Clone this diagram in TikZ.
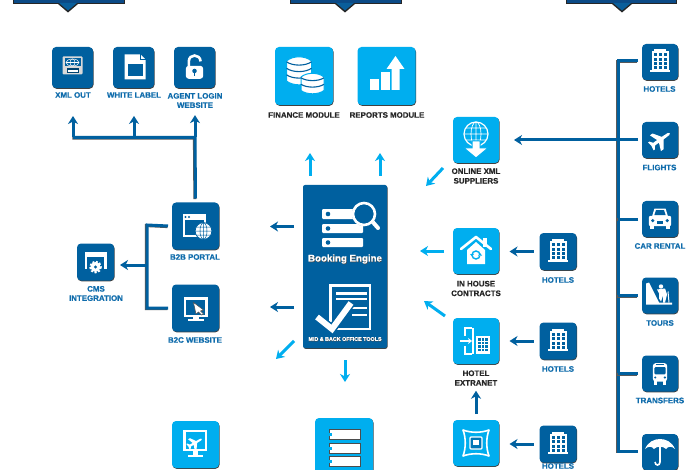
\documentclass[tikz,border=0pt]{standalone}
\usepackage{fontspec}
\setmainfont{Liberation Sans}[BoldFeatures={FakeBold=0.6}]
\usetikzlibrary{arrows.meta,shadows}
\definecolor{dk}{HTML}{00609F}
\definecolor{lt}{HTML}{00AEEF}
\definecolor{lbl}{HTML}{0F6CAC}
\definecolor{navy}{HTML}{0B4A86}
\newcommand{\planepath}{(13,-1.6) -- (15,0) -- (13,1.6) -- (4,2) -- (-3,12) -- (-7,12) -- (-3,2) -- (-9,2) -- (-12,6) -- (-14,6) -- (-13,0) -- (-14,-6) -- (-12,-6) -- (-9,-2) -- (-3,-2) -- (-7,-12) -- (-3,-12) -- (4,-2) -- cycle}
\tikzset{
  ico/.style={rectangle,rounded corners=4pt,inner sep=0pt,outer sep=0pt,draw=none,
    drop shadow={shadow xshift=.5pt,shadow yshift=-.8pt,fill=black,opacity=.75}},
  icd/.style={ico,fill=dk},
  icl/.style={ico,fill=lt},
  blue lab/.style={inner sep=0pt,align=center,text=lbl,font=\fontsize{7.9}{9.3}\selectfont\bfseries},
  black lab/.style={inner sep=0pt,align=center,text=black!85,font=\fontsize{7.9}{9.6}\selectfont\bfseries},
  darr/.style={line width=3pt,draw=dk,-{Stealth[length=8pt,width=10pt,inset=2.5pt]}},
  larr/.style={line width=3pt,draw=lt,-{Stealth[length=8pt,width=10pt,inset=2.5pt]}},
  trunk/.style={line width=3pt,draw=dk,preaction={draw=black!65,line width=3pt,transform canvas={xshift=-.6pt,yshift=-.6pt}}},
  hotelg/.pic={
    \fill[white] (-6,-12.5) rectangle (6,-10);
    \fill[white] (-8.5,-10.5) rectangle (8.5,8);
    \fill[white] (-10,8) rectangle (10,10);
    \foreach \x in {-5,0,5}\foreach \y in {-7,-2.5,2,6}{\fill[dk] (\x-1.5,\y-1.5) rectangle (\x+1.5,\y+1.5);}
  },
  planeg/.pic={\fill[white,rotate=35,scale=.8] \planepath;},
  carg/.pic={
    \fill[white] (-10,-3) -- (-7,-13) -- (7,-13) -- (10,-3) -- cycle;
    \fill[white,rounded corners=2pt] (-14,-4) rectangle (14,9);
    \fill[white] (-13,8) rectangle (-7,12.5);
    \fill[white] (7,8) rectangle (13,12.5);
    \fill[dk] (-7,-5) -- (-5,-11) -- (5,-11) -- (7,-5) -- cycle;
    \fill[dk] (-9,2) circle (2.2);
    \fill[dk] (9,2) circle (2.2);
    \fill[dk] (-4,3) rectangle (4,6);
  },
  tourg/.pic={
    \fill[white] (-14,-12) -- (-11,-13) -- (-1,7) -- (12,7) -- (12,9) -- (-14,9) -- cycle;
    \fill[white] (1,-9) circle (2.2);
    \fill[white] (-3,-6) -- (5,-7) -- (7,-1) -- (5,7) -- (3,7) -- (3,0) -- (1,6) -- (-1,3) -- (-1,-2) -- cycle;
    \draw[white,line width=1pt] (8,-4) -- (9,7);
  },
  busg/.pic={
    \fill[white,rounded corners=3pt] (-9,-13) rectangle (9,10);
    \fill[white] (-8,9) rectangle (-4,14);
    \fill[white] (4,9) rectangle (8,14);
    \fill[dk,rounded corners=1pt] (-7,-8) rectangle (7,1);
    \draw[dk,line width=.8pt] (-5,-11) -- (5,-11);
    \fill[dk] (-6,5) circle (1.5);
    \fill[dk] (6,5) circle (1.5);
  },
  umbg/.pic={
    \fill[white] (-15,-3) .. controls (-12,-10) and (-6,-13) .. (0,-13) .. controls (6,-13) and (12,-10) .. (15,-3)
      .. controls (12,-6) and (8,-6) .. (6,-3) .. controls (4,-6) and (-4,-6) .. (-6,-3) .. controls (-8,-6) and (-12,-6) .. (-15,-3) -- cycle;
    \draw[white,line width=1.6pt] (0,-5) -- (0,10) .. controls (0,14) and (-5,14) .. (-5,10);
  },
  xmlg/.pic={
    \fill[white!85!black,rounded corners=1pt] (-10,-9) rectangle (10,9);
    \fill[dk] (-8,-7) rectangle (8,1);
    \draw[white,line width=.5pt] (0,-3) ellipse (6.5 and 3.5);
    \draw[white,line width=.5pt] (0,-3) ellipse (2.5 and 3.5);
    \draw[white,line width=.5pt] (-6.5,-3) -- (6.5,-3);
    \fill[dk!70!black] (-6,3) rectangle (6,7.5);
    \draw[white,line width=.5pt] (-5,4.4) -- (5,4.4) (-5,6) -- (5,6);
  },
  docg/.pic={
    \fill[white] (-9,-13) -- (7,-13) -- (12,-8) -- (12,12) -- (-9,12) -- cycle;
    \fill[dk] (-6,-3) rectangle (9.5,9);
    \draw[dk,line width=.6pt] (7,-13) -- (7,-8) -- (12,-8);
  },
  lockg/.pic={
    \draw[white,line width=2.6pt] (-6.5,0) -- (-6.5,-7) .. controls (-6.5,-16) and (6.5,-16) .. (7,-7);
    \fill[white,rounded corners=3pt] (-10,-2) rectangle (10,13);
    \fill[dk] (0,4) circle (2.6);
    \fill[dk] (-1.1,4) rectangle (1.1,9.5);
  },
  browg/.pic={
    \fill[white] (-13,-12) rectangle (10,11);
    \fill[dk] (-11,-6) rectangle (8,9);
    \fill[dk] (-10,-9) circle (1.1);
    \fill[dk] (-6.5,-9) circle (1.1);
    \fill[white,draw=dk,line width=.8pt] (8,5) circle (8.4);
    \draw[dk,line width=.5pt] (8,5) ellipse (3.5 and 8.2) (-.4,5) -- (16.4,5) (0.5,1) -- (15.5,1) (.5,9) -- (15.5,9) (8,-3.4) -- (8,13.4);
  },
  mong/.pic={
    \fill[white] (-12,-11) rectangle (12,9);
    \fill[dk] (-9.5,-8.5) rectangle (9.5,6.5);
    \fill[white] (-3,9) rectangle (3,11);
    \fill[white] (-8,11) rectangle (8,13);
    \fill[white,draw=black!70,line width=.5pt] (-2,-5.5) -- (8,2) -- (5,3) -- (8,6) -- (6,7) -- (3,4) -- (0.5,6) -- cycle;
  },
  cmsg/.pic={
    \fill[white] (-11,-10) rectangle (11,7);
    \fill[dk] (-8.5,-5) rectangle (8.5,10);
    \fill[white] (0,5) circle (5);
    \draw[white,line width=2pt,dash pattern=on 2pt off 1.6pt] (0,5) circle (5.4);
    \fill[dk] (0,5) circle (1.6);
  },
  finang/.pic={
    \foreach \c/\t/\rx/\ry/\n in {-5/-15/12.5/4/3,8.5/1/11.5/3.5/2}{
      \fill[white,draw=lt,line width=1pt] (\c-\rx,\t) -- (\c-\rx,\t+\n*6.5+.5) .. controls (\c-\rx*.5,\t+\n*6.5+\ry*1.4) and (\c+\rx*.5,\t+\n*6.5+\ry*1.4) .. (\c+\rx,\t+\n*6.5+.5) -- (\c+\rx,\t) .. controls (\c+\rx*.5,\t-\ry*1.4) and (\c-\rx*.5,\t-\ry*1.4) .. (\c-\rx,\t) -- cycle;
      \foreach \i in {0,...,\n}{
        \ifnum\i<\n
        \draw[dk,line width=1.1pt] (\c-\rx,\t+\i*6.5+.8) .. controls (\c-\rx*.5,\t+\i*6.5+\ry*1.3) and (\c+\rx*.5,\t+\i*6.5+\ry*1.3) .. (\c+\rx,\t+\i*6.5+.8);
        \fi
      }
    }
  },
  chartg/.pic={
    \fill[white] (-17,3) rectangle (-8,14);
    \fill[white] (-6,-4) rectangle (3,14);
    \fill[white] (5,-7) -- (0,-7) -- (9,-20) -- (18,-7) -- (13,-7) -- (13,14) -- (5,14) -- cycle;
  },
  globeg/.pic={
    \draw[white,line width=1.2pt] (0,-6) circle (12);
    \draw[white,line width=.7pt] (0,-6) ellipse (5 and 12) (-12,-6) -- (12,-6) (-10,-12) -- (10,-12) (-10,0) -- (10,0) (0,-18) -- (0,6);
    \fill[white,draw=lt,line width=1pt] (-4,1) -- (4,1) -- (4,8) -- (12,8) -- (0,18) -- (-12,8) -- (-4,8) -- cycle;
  },
  houseg/.pic={
    \fill[white] (7,-13) rectangle (11,-4);
    \draw[white,line width=2.6pt,line join=round,line cap=round] (-15,-2) -- (0,-14) -- (15,-2);
    \fill[white] (-9,-1) -- (0,-9) -- (9,-1) -- (9,13) -- (-9,13) -- cycle;
    \draw[lt,line width=1.4pt] (0,4) circle (4);
    \fill[white] (-5,2.5) rectangle (5,5);
    \fill[lt] (-6,3) -- (-2,3) -- (-4,5.5) -- cycle;
    \fill[lt] (6,4.5) -- (2,4.5) -- (4,2) -- cycle;
  },
  extrag/.pic={
    \draw[white,line width=1.5pt] (-4,-13) -- (-11,-13) -- (-11,-5);
    \draw[white,line width=1.5pt] (-11,5) -- (-11,13) -- (-4,13);
    \draw[white,line width=1.5pt] (-3,-13) -- (-3,13);
    \draw[white,line width=1.6pt,-{Stealth[length=4pt,width=6pt]}] (-16,0) -- (-4,0);
    \fill[white] (0,-5) rectangle (14,13);
    \foreach \x in {2,5.5,9}\foreach \y in {-3,.5,4,7.5}{\fill[dk!70!lt] (\x,\y) rectangle (\x+2.5,\y+2.5);}
  },
  xchangeg/.pic={
    \draw[white,line width=1.6pt,line join=round] (-13,-13) .. controls (-5,-10) and (5,-10) .. (13,-13)
      .. controls (10,-5) and (10,5) .. (13,13) .. controls (5,10) and (-5,10) .. (-13,13) .. controls (-10,5) and (-10,-5) .. (-13,-13) -- cycle;
    \fill[dk!70!lt,draw=white,line width=1.2pt,rounded corners=1pt] (-6,-6) rectangle (6,6);
    \fill[white] (-3,-3) rectangle (3,2);
  },
  engineg/.pic={
    \fill[white,rounded corners=1pt] (-23,-41) rectangle (12,-31);
    \fill[white,rounded corners=1pt] (-23,-26) rectangle (18,-17);
    \fill[white,rounded corners=1pt] (-23,-12) rectangle (18,-3);
    \foreach \y in {-36,-21.5,-7.5}{\fill[dk] (-17,\y) circle (2.3);}
    \draw[white,line width=4pt,line cap=round] (26,-30) -- (33,-22);
    \fill[dk] (19,-36) circle (12);
    \draw[white,line width=2.6pt] (19,-36) circle (11);
  },
  officeg/.pic={
    \fill[white] (-16,-16) rectangle (26,30);
    \fill[dk] (-13,-13) rectangle (24,28);
    \fill[white] (-9,-8) rectangle (22,-5);
    \fill[white] (-9,-2) rectangle (22,0);
    \fill[white] (5,7) rectangle (22,9);
    \fill[white] (7,14) rectangle (22,16);
    \draw[dk,line width=9pt,line join=miter] (-28,17) -- (-13,29) -- (6,3);
    \draw[white,line width=6pt,line join=miter] (-28,17) -- (-13,29) -- (6,3);
  },
  stackg/.pic={
    \foreach \y in {-18,-4,9}{
      \fill[white,draw=black!70,line width=.6pt] (-15,\y) rectangle (16,\y+10);
      \fill[lt] (-16,\y+3.5) rectangle (-12,\y+6.5);
    }
  },
  monplaneg/.pic={
    \fill[white] (-12.5,-15) rectangle (11.5,6);
    \fill[lt] (-10,-13) rectangle (9,4);
    \fill[white,rotate=30,scale=.55,shift={(0,-3)}] \planepath;
    \fill[white] (-3,6) rectangle (2,10);
    \fill[white] (-8,10) rectangle (7,12);
  }
}
\begin{document}
\begin{tikzpicture}[x=1pt,y=-1pt]
\path[clip] (0,0) rectangle (700,470);
\fill[white] (0,0) rectangle (700,470);
% banners
\foreach \l/\r/\t in {13/125/68,290/402/345,566/677/622}{
  \fill[black!85] (\l,-2) rectangle (\r,4.5);
  \fill[black!85] (\t-10,4) -- (\t,12.5) -- (\t+10,4) -- cycle;
  \fill[navy] (\l+1,-2) rectangle (\r-1,3);
  \fill[navy!80!lt] (\t-9,3) -- (\t,10.5) -- (\t+9,3) -- cycle;
}
% top left group
\node[icd,minimum size=41pt] (xmlout) at (72.5,67.5) {};
\node[icd,minimum size=41pt] (white) at (133.5,67.5) {};
\node[icd,minimum size=41pt] (agent) at (194.5,67.5) {};
\node[blue lab] (xmloutL) at (73,95) {XML OUT};
\node[blue lab] (whiteL) at (134,95) {WHITE LABEL};
\node[blue lab] (agentL) at (195,100.5) {AGENT LOGIN\\WEBSITE};
\pic at ([yshift=2pt]xmlout.center) {xmlg};
\pic at (white) {docg};
\pic[scale=.87] at (agent) {lockg};
% modules
\node[icl,minimum size=58pt] (finance) at (304,76) {};
\node[icl,minimum size=58pt] (reports) at (386.5,76) {};
\node[black lab] (financeL) at (304,115) {FINANCE MODULE};
\node[black lab] (reportsL) at (387,115) {REPORTS MODULE};
\pic at (finance) {finang};
\pic at (reports) {chartg};
% online xml
\node[icl,minimum size=46pt] (online) at (476,140) {};
\node[black lab] (onlineL) at (476,176) {ONLINE XML\\SUPPLIERS};
\pic at (online) {globeg};
% engine
\node[icd,rounded corners=2pt,minimum width=84pt,minimum height=163pt] (engine) at (345,266.5) {};
\pic at ([yshift=16.5pt]engine.center) {engineg};
\pic at ([yshift=-33.5pt]engine.center) {officeg};
\node[inner sep=0pt,text=black!70,font=\fontsize{9.7}{11}\selectfont\bfseries] (engineS) at (345.5,259.7) {Booking Engine};
\node[inner sep=0pt,text=white,font=\fontsize{9.7}{11}\selectfont\bfseries] (engineL) at (345,259) {Booking Engine};
\node[inner sep=0pt,text=black!70,font=\fontsize{5.35}{6}\selectfont\bfseries] (toolsS) at (345.4,339.5) {MID \& BACK OFFICE TOOLS};
\node[inner sep=0pt,text=white,font=\fontsize{5.35}{6}\selectfont\bfseries] (toolsL) at (345,339) {MID \& BACK OFFICE TOOLS};
% portals
\node[icd,minimum size=47pt] (b2b) at (195.5,226) {};
\node[icd,minimum size=47pt] (b2c) at (195.5,308) {};
\node[blue lab] (b2bL) at (195,257) {B2B PORTAL};
\node[blue lab] (b2cL) at (195,340) {B2C WEBSITE};
\pic at (b2b) {browg};
\pic at (b2c) {mong};
\node[icd,minimum size=37pt] (cms) at (95.5,262) {};
\node[blue lab] (cmsL) at (96,293.5) {CMS\\INTEGRATION};
\pic at (cms) {cmsg};
% supply column
\node[icl,minimum size=46pt] (house) at (476,251) {};
\node[black lab] (houseL) at (476,288.5) {IN HOUSE\\CONTRACTS};
\pic at (house) {houseg};
\node[icl,minimum size=46pt] (extranet) at (476,341) {};
\node[black lab] (extranetL) at (476,378) {HOTEL\\EXTRANET};
\pic at (extranet) {extrag};
\node[icl,minimum size=46pt] (xchange) at (476,443) {};
\pic at (xchange) {xchangeg};
\node[icd,minimum size=37pt] (hotA) at (558,251.5) {};
\node[icd,minimum size=37pt] (hotB) at (558,341) {};
\node[icd,minimum size=37pt] (hotC) at (558,444) {};
\pic at (hotA) {hotelg};
\pic at (hotB) {hotelg};
\pic at (hotC) {hotelg};
\node[blue lab] (hotAL) at (558,280) {HOTELS};
\node[blue lab] (hotBL) at (558,369) {HOTELS};
\node[blue lab] (hotCL) at (558,466) {HOTELS};
% right column
\node[icd,minimum size=36pt] (rHotels) at (660,62) {};
\node[icd,minimum size=36pt] (rFlights) at (660,140) {};
\node[icd,minimum size=36pt] (rCar) at (660,219) {};
\node[icd,minimum size=36pt] (rTours) at (660,295.5) {};
\node[icd,minimum size=36pt] (rTransfers) at (660,373.5) {};
\node[icd,minimum size=36pt] (rUmbrella) at (660,452) {};
\pic at (rHotels) {hotelg};
\pic at (rFlights) {planeg};
\pic[scale=.8] at (rCar) {carg};
\pic at (rTours) {tourg};
\pic[scale=.8] at (rTransfers) {busg};
\pic at (rUmbrella) {umbg};
\node[blue lab] (rHotelsL) at (659.5,89) {HOTELS};
\node[blue lab] (rFlightsL) at (659.5,167.5) {FLIGHTS};
\node[blue lab] (rCarL) at (660,246) {CAR RENTAL};
\node[blue lab] (rToursL) at (660,323) {TOURS};
\node[blue lab] (rTransfersL) at (660,400.5) {TRANSFERS};
% bottom
\node[icl,minimum size=47pt] (desk) at (195.5,444.5) {};
\pic at (desk) {monplaneg};
\node[icl,minimum size=58pt] (storage) at (344,447) {};
\pic at (storage) {stackg};
% trees
\coordinate (topJ) at (195,137.5);
\coordinate (topM) at (134,137.5);
\coordinate (topL) at (73,137.5);
\coordinate (railT) at (618,61);
\coordinate (railB) at (618,451);
\coordinate (railF) at (618,140);
\coordinate (leftT) at (147,225);
\coordinate (leftB) at (147,308);
\coordinate (leftM) at (147,265);
\draw[trunk,line cap=butt] ([yshift=4pt]b2b.north) -- (topJ) -- (topL);
\draw[darr] (topL) -- ([yshift=-18pt]xmloutL.south);
\draw[darr] (topM) -- ([yshift=-18pt]whiteL.south);
\draw[darr] (topJ) -- ([yshift=-7pt]agentL.south);
\draw[trunk] ([xshift=-4pt]rHotels.west |- railT) -- (railT) -- (railB) -- ([xshift=-4pt]rUmbrella.west |- railB);
\draw[trunk] ([xshift=-4pt]rCar.west) -- (rCar.west -| railT);
\draw[trunk] ([xshift=-4pt]rTours.west) -- (rTours.west -| railT);
\draw[trunk] ([xshift=-4pt]rTransfers.west) -- (rTransfers.west -| railT);
\draw[darr] ([xshift=-4pt]rFlights.west) -- ([xshift=15pt]online.east |- railF);
\draw[trunk] ([xshift=-4pt]b2b.west) -- (leftT) -- (leftB) -- ([xshift=-4pt]b2c.west);
\draw[darr] (leftM) -- ([xshift=6pt]cms.east |- leftM);
% light / dark flow arrows
\draw[larr] ([shift={(-35pt,9pt)}]engine.north) -- ([shift={(-35pt,32pt)}]engine.north);
\draw[larr] ([shift={(35pt,9pt)}]engine.north) -- ([shift={(35pt,32pt)}]engine.north);
\coordinate (dOnlineA) at (443,168);
\coordinate (dOnlineB) at (426,186);
\draw[larr] (dOnlineA) -- (dOnlineB);
\draw[darr] ([shift={(-9pt,40pt)}]engine.west) -- ([shift={(-33pt,40pt)}]engine.west);
\draw[darr] ([shift={(-9pt,-40.5pt)}]engine.west) -- ([shift={(-33pt,-40.5pt)}]engine.west);
\coordinate (dDownA) at (294,341);
\coordinate (dDownB) at (276,359);
\draw[larr] (dDownA) -- (dDownB);
\draw[larr] ([yshift=-12pt]engine.south) -- ([yshift=-34pt]engine.south);
\draw[larr] ([xshift=-9pt]house.west) -- ([xshift=-33pt]house.west);
\coordinate (dExtraA) at (445,316);
\coordinate (dExtraB) at (424,301);
\draw[larr] (dExtraA) -- (dExtraB);
\draw[darr] ([yshift=6pt]xchange.north) -- ([yshift=-5pt]extranetL.south);
\draw[darr] ([xshift=-6pt]hotA.west) -- ([xshift=-30pt]hotA.west);
\draw[darr] ([xshift=-6pt]hotB.west) -- ([xshift=-30pt]hotB.west);
\draw[darr] ([xshift=-6pt]hotC.west) -- ([xshift=-30pt]hotC.west);
\end{tikzpicture}
\end{document}
